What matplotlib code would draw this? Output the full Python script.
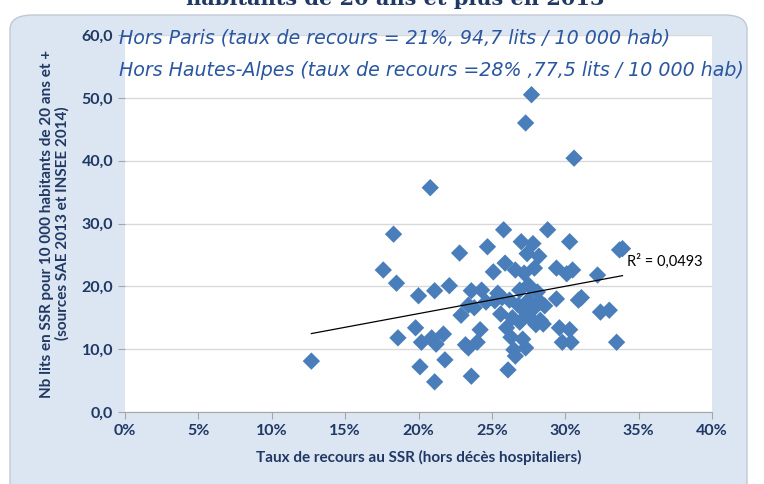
import numpy as np
import matplotlib.pyplot as plt
from matplotlib.patches import FancyBboxPatch
from matplotlib.ticker import FuncFormatter

# taux de recours (%) et nb lits pour 10 000 hab, un point par departement
taux = [12.7, 17.6, 18.3, 18.5, 18.6, 20.0, 19.8, 20.1, 20.2, 20.8, 20.9, 21.1, 21.1,
        21.2, 21.7, 21.8, 22.1, 22.8, 22.9, 23.2, 23.4, 23.4, 23.6, 23.6, 23.8, 24.0,
        24.2, 24.3, 24.6, 24.7, 25.1, 25.2, 25.4, 25.6, 25.7, 25.8, 25.9, 26.0, 26.1,
        26.2, 26.3, 26.4, 26.5, 26.6, 26.6, 26.8, 26.9, 26.9, 27.0, 27.1, 27.2, 27.2,
        27.3, 27.3, 27.4, 27.5, 27.5, 27.6, 27.7, 27.8, 27.9, 27.9, 28.0, 28.1, 28.2,
        28.3, 28.3, 28.5, 28.6, 28.8, 29.4, 29.4, 29.6, 29.8, 30.1, 30.3, 30.3, 30.4,
        30.5, 30.6, 30.9, 31.1, 32.2, 32.4, 33.0, 33.5, 33.7, 33.9]
lits = [8.1, 22.6, 28.3, 20.5, 11.8, 18.5, 13.4, 7.2, 11.1, 35.7, 11.8, 19.3, 4.8,
        10.8, 12.4, 8.3, 20.1, 25.3, 15.4, 10.7, 17.0, 10.2, 5.7, 19.3, 16.6, 11.1,
        13.1, 19.4, 17.5, 26.3, 22.3, 17.7, 18.9, 15.6, 18.2, 29.0, 23.7, 13.4, 6.7,
        17.8, 11.9, 15.0, 9.9, 8.9, 22.6, 17.0, 19.4, 14.3, 27.1, 11.6, 22.1, 16.2,
        10.2, 46.0, 25.2, 17.8, 20.2, 15.0, 50.5, 26.8, 22.9, 16.6, 13.9, 19.1, 24.8,
        17.5, 14.6, 14.0, 16.9, 29.0, 22.9, 18.0, 13.4, 11.1, 22.0, 27.1, 13.1, 11.1,
        22.6, 40.4, 17.8, 18.2, 21.8, 15.9, 16.2, 11.1, 25.8, 26.0]

navy = '#1f3864'
blue_txt = '#2a56a0'

x = np.array(taux) / 100
y = np.array(lits)

fig = plt.figure(figsize=(7.64, 4.84), dpi=100)
fig.patch.set_facecolor('white')

# panneau bleu arrondi
panel = FancyBboxPatch((10 / 764, -0.05), 737 / 764, 1 - 15 / 484 + 0.05,
                       boxstyle='round,pad=0,rounding_size=0.03',
                       transform=fig.transFigure, facecolor='#dce6f2',
                       edgecolor='#c0c8d4', lw=1, zorder=-10)
fig.patches.append(panel)

fig.text(395 / 764, 1 - 5 / 484, 'habitants de 20 ans et plus en 2013',
         ha='center', va='baseline', fontsize=15, fontweight='bold',
         family='DejaVu Serif', color=navy)

ax = fig.add_axes([125 / 764, 72 / 484, 587 / 764, 377 / 484])
ax.set_zorder(1)
ax.set_facecolor('white')
ax.set_xlim(0, 0.40)
ax.set_ylim(0, 60)
ax.set_xticks(np.arange(0, 0.41, 0.05))
ax.set_yticks(np.arange(0, 61, 10))
ax.xaxis.set_major_formatter(FuncFormatter(lambda v, p: '{:.0f}%'.format(v * 100)))
ax.yaxis.set_major_formatter(FuncFormatter(lambda v, p: '{:.1f}'.format(v).replace('.', ',')))
ax.grid(axis='y', color='#d9d9d9', lw=1)
ax.set_axisbelow(True)
for s in ['top', 'right', 'left']:
    ax.spines[s].set_visible(False)
ax.spines['bottom'].set_color('#a6a6a6')
ax.tick_params(axis='both', colors='#a6a6a6', length=5, direction='out')
for lab in ax.get_xticklabels() + ax.get_yticklabels():
    lab.set_color(navy)
    lab.set_fontweight('bold')
    lab.set_fontsize(11.5)
    lab.set_family('Lato')

ax.scatter(x, y, marker='D', s=78, color='#4a7ebb', edgecolors='none', zorder=3)

# courbe de tendance lineaire
a, b = np.polyfit(x, y, 1)
xs = np.array([x.min(), x.max()])
ax.plot(xs, a * xs + b, color='black', lw=0.9, zorder=4)
ax.text(x.max() + 0.003, a * x.max() + b + 1.0, 'R² = 0,0493', fontsize=10.5,
        family='Lato', color='black', va='bottom', ha='left')

ax.set_xlabel('Taux de recours au SSR (hors décès hospitaliers)', fontsize=11,
              fontweight='bold', family='Lato', color=navy, labelpad=9)
ax.set_ylabel('Nb lits en SSR pour 10 000 habitants de 20 ans et +\n(sources SAE 2013 et INSEE 2014)',
              fontsize=11, fontweight='bold', family='Lato', color=navy,
              linespacing=1.05, labelpad=8)
ax.yaxis.set_label_coords(-0.095, 0.5)

fig.text(119 / 764, 1 - 38 / 484, 'Hors Paris (taux de recours = 21%, 94,7 lits / 10 000 hab)',
         fontsize=13.7, style='italic', color=blue_txt, va='center', ha='left', zorder=5)
fig.text(119 / 764, 1 - 70 / 484, 'Hors Hautes-Alpes (taux de recours =28% ,77,5 lits / 10 000 hab)',
         fontsize=13.7, style='italic', color=blue_txt, va='center', ha='left', zorder=5)

fig.savefig('out.png', dpi=100)
